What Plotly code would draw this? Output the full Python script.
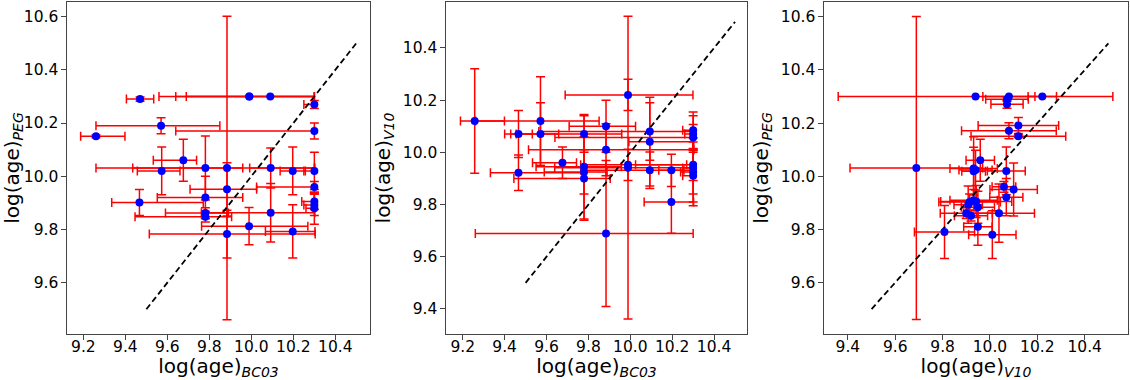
import plotly.graph_objects as go

# ---------------- data ----------------
# Panel 1: BC03 (x) vs PEG (y)
p1_x = [9.47, 9.99, 9.99, 10.09, 10.30, 9.57, 9.26, 10.30, 9.676, 9.573, 9.781, 9.884, 10.092, 10.197,
        10.30, 10.30, 9.884, 9.781, 9.467, 10.30, 10.30, 10.30, 9.781, 9.781, 10.092, 9.989, 10.197, 9.884]
p1_y = [10.29, 10.30, 10.30, 10.30, 10.27, 10.19, 10.15, 10.17, 10.06, 10.02, 10.031, 10.031, 10.031, 10.02,
        10.02, 9.96, 9.951, 9.92, 9.901, 9.905, 9.892, 9.88, 9.862, 9.848, 9.8625, 9.8125, 9.7925, 9.7825]
p1_xm = [0.065, 0.30, 0.35, 0.53, 0.05, 0.31, 0.073, 0.66, 0.143, 0.116, 0.346, 0.624, 0.10, 0.06,
         0.05, 0.275, 0.176, 0.229, 0.132, 0.06, 0.05, 0.04, 0.19, 0.335, 0.33, 0.226, 0.13, 0.37]
p1_xp = [0.065, 0.31, 0.31, 0.21, 0.0, 0.28, 0.138, 0.0, 0.063, 0.087, 0.178, 0.416, 0.21, 0.06,
         0.0, 0.0, 0.141, 0.178, 0.304, 0.0, 0.0, 0.0, 0.11, 0.125, 0.21, 0.28, 0.106, 0.42]
p1_ym = [0.008, 0.0, 0.0, 0.0, 0.015, 0.03, 0.005, 0.03, 0.079, 0.09, 0.12, 0.57, 0.075, 0.09,
         0.07, 0.02, 0.1, 0.08, 0.049, 0.03, 0.04, 0.06, 0.02, 0.02, 0.11, 0.07, 0.1, 0.09]
p1_yp = p1_ym

# Panel 2: BC03 (x) vs V10 (y)
p2_x = [9.257, 9.466, 9.466, 9.571, 9.571, 9.676, 9.779, 9.779, 9.779, 9.779, 9.884, 9.884, 9.884, 9.989,
        9.989, 9.989, 10.093, 10.093, 10.093, 10.196, 10.196, 10.30, 10.30, 10.30, 10.30, 10.30, 10.30, 10.30]
p2_y = [10.12, 10.07, 9.922, 10.12, 10.07, 9.96, 10.07, 9.945, 9.925, 9.90, 10.10, 10.01, 9.689, 9.952,
        9.941, 10.22, 10.08, 10.041, 9.931, 9.931, 9.81, 10.085, 10.07, 10.057, 9.952, 9.94, 9.925, 9.91]
p2_xm = [0.068, 0.066, 0.134, 0.31, 0.116, 0.143, 0.35, 0.229, 0.19, 0.335, 0.176, 0.37, 0.624, 0.226,
         0.35, 0.30, 0.53, 0.10, 0.33, 0.06, 0.13, 0.05, 0.04, 0.66, 0.275, 0.05, 0.06, 0.05]
p2_xp = [0.142, 0.066, 0.311, 0.28, 0.087, 0.067, 0.18, 0.178, 0.11, 0.125, 0.141, 0.42, 0.416, 0.28,
         0.31, 0.31, 0.21, 0.21, 0.21, 0.06, 0.106, 0.0, 0.0, 0.0, 0.0, 0.0, 0.0, 0.0]
p2_ym = [0.2, 0.09, 0.068, 0.17, 0.12, 0.06, 0.07, 0.2, 0.085, 0.16, 0.1, 0.1, 0.28, 0.06,
         0.58, 0.06, 0.11, 0.17, 0.07, 0.062, 0.12, 0.07, 0.07, 0.05, 0.06, 0.1, 0.13, 0.1]
p2_yp = p2_ym

# Panel 3: V10 (x) vs PEG (y)
p3_x = [9.689, 9.939, 10.221, 10.08, 10.072, 10.072, 10.12, 10.08, 10.12, 9.959, 9.931, 9.939, 9.931, 10.069,
        10.059, 10.10, 10.069, 9.914, 9.931, 9.942, 9.949, 9.908, 9.90, 9.92, 10.038, 9.949, 10.01, 9.808]
p3_y = [10.031, 10.30, 10.30, 10.30, 10.29, 10.271, 10.191, 10.171, 10.151, 10.06, 10.029, 10.023, 10.019, 10.02,
        9.96, 9.95, 9.921, 9.903, 9.91, 9.905, 9.883, 9.893, 9.861, 9.851, 9.861, 9.81, 9.78, 9.79]
p3_xm = [0.28, 0.58, 0.06, 0.11, 0.09, 0.068, 0.17, 0.2, 0.2, 0.06, 0.1, 0.07, 0.05, 0.08,
         0.05, 0.1, 0.07, 0.13, 0.1, 0.15, 0.07, 0.06, 0.11, 0.07, 0.15, 0.06, 0.1, 0.127]
p3_xp = p3_xm
p3_ym = [0.57, 0.0, 0.0, 0.0, 0.008, 0.015, 0.03, 0.03, 0.005, 0.079, 0.12, 0.075, 0.09, 0.09,
         0.02, 0.1, 0.07, 0.03, 0.04, 0.06, 0.06, 0.07, 0.02, 0.02, 0.11, 0.07, 0.09, 0.1]
p3_yp = p3_ym

diag = [9.5, 10.5]

p1_xticks = [9.2, 9.4, 9.6, 9.8, 10.0, 10.2, 10.4]
p1_yticks = [9.6, 9.8, 10.0, 10.2, 10.4, 10.6]
p2_xticks = [9.2, 9.4, 9.6, 9.8, 10.0, 10.2, 10.4]
p2_yticks = [9.4, 9.6, 9.8, 10.0, 10.2, 10.4]
p3_xticks = [9.4, 9.6, 9.8, 10.0, 10.2, 10.4]
p3_yticks = [9.6, 9.8, 10.0, 10.2, 10.4, 10.6]

p1_xrange = [9.122, 10.565]
p1_yrange = [9.407, 10.655]
p2_xrange = [9.120, 10.557]
p2_yrange = [9.304, 10.576]
p3_xrange = [9.299, 10.583]
p3_yrange = [9.406, 10.656]

x_titles = ["log(age)<sub><i>BC03</i></sub>", "log(age)<sub><i>BC03</i></sub>", "log(age)<sub><i>V10</i></sub>"]
y_titles = ["log(age)<sub><i>PEG</i></sub>", "log(age)<sub><i>V10</i></sub>", "log(age)<sub><i>PEG</i></sub>"]

# ---------------- figure ----------------
W, H = 1130, 380
FONT = "DejaVu Sans"
x_domains = [[67 / W, 370 / W], [446 / W, 747 / W], [824 / W, 1128 / W]]
y_domain = [1 - 334 / H, 1 - 2 / H]

fig = go.Figure()

panels = [
    (p1_x, p1_y, p1_xm, p1_xp, p1_ym, p1_yp, p1_xticks, p1_yticks, p1_xrange, p1_yrange),
    (p2_x, p2_y, p2_xm, p2_xp, p2_ym, p2_yp, p2_xticks, p2_yticks, p2_xrange, p2_yrange),
    (p3_x, p3_y, p3_xm, p3_xp, p3_ym, p3_yp, p3_xticks, p3_yticks, p3_xrange, p3_yrange),
]

layout_axes = {}
for i, (px, py, xm, xp, ym, yp, xt, yt, xr, yr) in enumerate(panels):
    n = "" if i == 0 else str(i + 1)
    xa, ya = "x" + n, "y" + n
    # error bars (drawn first, underneath markers)
    fig.add_trace(go.Scatter(
        x=px, y=py, mode="markers", xaxis=xa, yaxis=ya,
        marker=dict(size=1, color="rgba(0,0,0,0)"),
        error_x=dict(type="data", symmetric=False, array=xp, arrayminus=xm,
                     color="red", thickness=1.5, width=4.5),
        error_y=dict(type="data", symmetric=False, array=yp, arrayminus=ym,
                     color="red", thickness=1.5, width=4.5),
        showlegend=False, hoverinfo="skip"))
    # dashed 1:1 line
    fig.add_trace(go.Scatter(
        x=diag, y=diag, mode="lines", xaxis=xa, yaxis=ya,
        line=dict(color="black", width=1.8, dash="6px,3.5px"),
        showlegend=False, hoverinfo="skip"))
    # markers
    fig.add_trace(go.Scatter(
        x=px, y=py, mode="markers", xaxis=xa, yaxis=ya,
        marker=dict(size=8, color="#0000ff", line=dict(width=0)),
        showlegend=False, hoverinfo="skip"))

    common = dict(showline=True, mirror=True, linecolor="#444", linewidth=1.2,
                  ticks="outside", ticklen=4.5, tickwidth=1.1, tickcolor="#444",
                  showgrid=False, zeroline=False, tickformat=".1f",
                  tickfont=dict(family=FONT, size=15.5, color="black"),
                  automargin=False)
    layout_axes["xaxis" + n] = dict(
        common, domain=x_domains[i], range=xr, tickvals=xt, anchor=ya,
        ticklabelstandoff=-6,
        title=dict(text=x_titles[i], font=dict(family=FONT, size=20, color="black"), standoff=12))
    layout_axes["yaxis" + n] = dict(
        common, domain=y_domain, range=yr, tickvals=yt, anchor=xa,
        title=dict(text=y_titles[i], font=dict(family=FONT, size=20, color="black"), standoff=6))

fig.update_layout(
    width=W, height=H,
    margin=dict(l=0, r=0, t=0, b=0),
    paper_bgcolor="white", plot_bgcolor="white",
    template="none", hovermode=False,
    **layout_axes,
)

# remove the browser's default 8px body margin so the figure sits at the page origin
fig.write_html("out.html",
               config={"displayModeBar": False},
               post_script="document.body.style.margin='0';document.body.style.padding='0';"
                           "document.body.style.overflow='hidden';")
